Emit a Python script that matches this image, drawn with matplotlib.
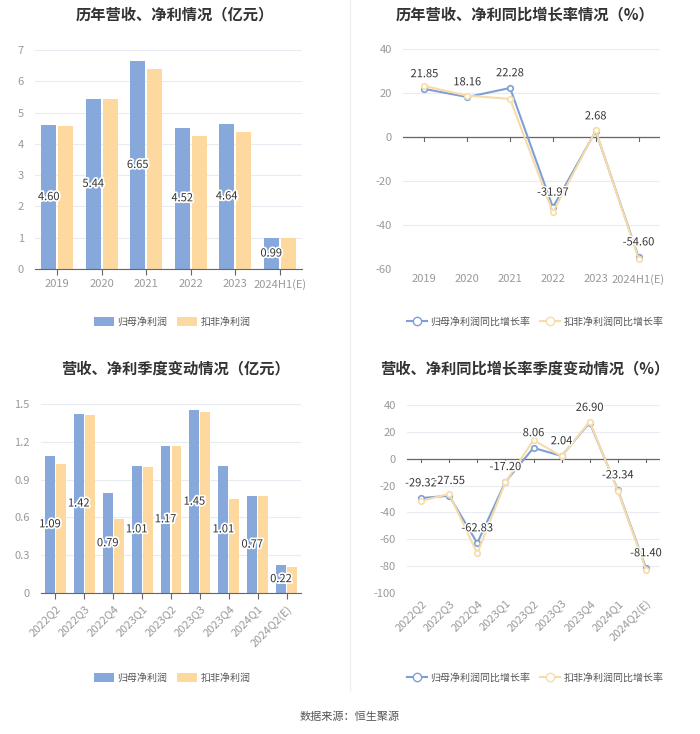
import numpy as np
import matplotlib
matplotlib.use("Agg")
import matplotlib.pyplot as plt
import matplotlib.patheffects as pe
from matplotlib.lines import Line2D
from matplotlib.patches import Patch

plt.rcParams['font.family'] = ['Noto Sans CJK SC', 'DejaVu Sans']

# annual data
years = ["2019", "2020", "2021", "2022", "2023", "2024H1(E)"]
np_parent = [4.60, 5.44, 6.65, 4.52, 4.64, 0.99]
np_deduct = [4.56, 5.42, 6.38, 4.24, 4.37, 0.98]
g_parent = [21.85, 18.16, 22.28, -31.97, 2.68, -54.60]
g_deduct = [23.2, 18.8, 17.3, -34.2, 3.0, -55.3]

# quarterly data
quarters = ["2022Q2", "2022Q3", "2022Q4", "2023Q1", "2023Q2", "2023Q3",
            "2023Q4", "2024Q1", "2024Q2(E)"]
q_parent = [1.09, 1.42, 0.79, 1.01, 1.17, 1.45, 1.01, 0.77, 0.22]
q_deduct = [1.02, 1.41, 0.59, 1.00, 1.17, 1.44, 0.75, 0.77, 0.21]
qg_parent = [-29.32, -27.55, -62.83, -17.20, 8.06, 2.04, 26.90, -23.34, -81.40]
qg_deduct = [-31.5, -26.2, -70.5, -17.5, 13.8, 1.8, 27.6, -23.8, -82.5]

BLUE = "#86A8DB"
YELLOW = "#FDD9A0"
LBLUE = "#7E9FD6"
LYELLOW = "#F7DCA8"
GRID = "#E9ECF2"
TICK = "#999999"
TXT = "#333333"

W, H = 700, 734
fig = plt.figure(figsize=(7, 7.34), dpi=100)


def ax_at(x0, y0, x1, y1):
    return fig.add_axes([x0 / W, 1 - y1 / H, (x1 - x0) / W, (y1 - y0) / H])


def style(ax, ymin, ymax, step, fmt):
    ax.set_ylim(ymin, ymax)
    ticks = np.arange(ymin, ymax + step / 2, step)
    ax.set_yticks(ticks)
    ax.set_yticklabels([fmt(t) for t in ticks])
    ax.grid(axis="y", color=GRID, linewidth=0.8)
    ax.set_axisbelow(True)
    for s in ["top", "right", "left"]:
        ax.spines[s].set_visible(False)
    ax.tick_params(axis="y", length=0, labelsize=8, labelcolor=TICK, pad=8)
    ax.tick_params(axis="x", length=4, color="#666666", labelsize=8, labelcolor=TICK)


def bar_chart(ax, cats, a, b, ymax, step, fmt, rotate=False):
    x = np.arange(len(cats))
    ax.bar(x - 0.19, a, width=0.34, color=BLUE)
    ax.bar(x + 0.19, b, width=0.34, color=YELLOW)
    ax.set_xlim(-0.5, len(cats) - 0.5)
    style(ax, 0, ymax, step, fmt)
    ax.spines["bottom"].set_color("#666666")
    ax.set_xticks(x)
    if rotate:
        ax.set_xticklabels(cats, rotation=45, ha="right", rotation_mode="anchor")
    else:
        ax.set_xticklabels(cats)
    for xi, v in zip(x, a):
        ax.text(xi - 0.19, v / 2, f"{v:.2f}", ha="center", va="center",
                fontsize=8, color=TXT,
                path_effects=[pe.withStroke(linewidth=2.5, foreground="white")])


def line_chart(ax, cats, a, b, ymin, ymax, step, rotate=False):
    x = np.arange(len(cats))
    ax.plot(x, b, color=LYELLOW, lw=1.5, marker="o", ms=4, mfc="white",
            mec=LYELLOW, mew=1.2, zorder=3)
    ax.plot(x, a, color=LBLUE, lw=1.5, marker="o", ms=4, mfc="white",
            mec=LBLUE, mew=1.2, zorder=2)
    ax.set_xlim(-0.5, len(cats) - 0.5)
    style(ax, ymin, ymax, step, lambda t: f"{t:.0f}")
    ax.spines["bottom"].set_visible(False)
    ax.axhline(0, color="#666666", lw=0.9, zorder=1)
    ax.set_xticks(x)
    ax.tick_params(axis="x", length=0)
    for xi in x:
        ax.plot([xi, xi], [0, -(ymax - ymin) * 0.018], color="#666666", lw=0.8,
                clip_on=False, zorder=1)
    if rotate:
        ax.set_xticklabels(cats, rotation=45, ha="right", rotation_mode="anchor")
    else:
        ax.set_xticklabels(cats)
    for xi, v in zip(x, a):
        ax.annotate(f"{v:.2f}", (xi, v), xytext=(0, 7), textcoords="offset points",
                    ha="center", va="bottom", fontsize=8, color=TXT, zorder=5,
                    path_effects=[pe.withStroke(linewidth=2, foreground="white")])


ax1 = ax_at(35, 50, 302, 269)
bar_chart(ax1, years, np_parent, np_deduct, 7, 1, lambda t: f"{t:.0f}")
ax2 = ax_at(403, 49, 660, 269)
line_chart(ax2, years, g_parent, g_deduct, -60, 40, 20)
ax3 = ax_at(41, 404, 301, 593)
bar_chart(ax3, quarters, q_parent, q_deduct, 1.5, 0.3,
          lambda t: "0" if t == 0 else f"{t:.1f}", rotate=True)
ax4 = ax_at(407, 405, 660, 593)
line_chart(ax4, quarters, qg_parent, qg_deduct, -100, 40, 20, rotate=True)

# titles
for x, y, t in [(175, 14, "历年营收、净利情况（亿元）"),
                (525, 14, "历年营收、净利同比增长率情况（%）"),
                (175, 368, "营收、净利季度变动情况（亿元）"),
                (525, 368, "营收、净利同比增长率季度变动情况（%）")]:
    fig.text(x / W, 1 - y / H, t, ha="center", va="center", fontsize=11,
             fontweight="bold", color=TXT)

# legends
bar_handles = [Patch(facecolor=BLUE, edgecolor="none"),
               Patch(facecolor=YELLOW, edgecolor="none")]
line_handles = [Line2D([], [], color=LBLUE, marker="o", mfc="white", ms=6, lw=1.5),
                Line2D([], [], color=LYELLOW, marker="o", mfc="white", ms=6, lw=1.5)]
for x, y, h, lab in [(172, 322, bar_handles, ["归母净利润", "扣非净利润"]),
                     (535, 322, line_handles, ["归母净利润同比增长率", "扣非净利润同比增长率"]),
                     (172, 678, bar_handles, ["归母净利润", "扣非净利润"]),
                     (535, 678, line_handles, ["归母净利润同比增长率", "扣非净利润同比增长率"])]:
    leg = fig.legend(h, lab, loc="center", bbox_to_anchor=(x / W, 1 - y / H), ncol=2,
                     frameon=False, fontsize=7.2, handlelength=2.0, handleheight=1.0,
                     columnspacing=0.9, handletextpad=0.4)
    for t in leg.get_texts():
        t.set_color("#555555")

# divider
fig.add_artist(Line2D([0.5, 0.5], [1 - 690 / H, 1.0], color="#F0F0F0", lw=1))

fig.text(0.5, 1 - 717 / H, "数据来源：恒生聚源", ha="center", va="center",
         fontsize=8, color="#555555")

fig.savefig("out.png", dpi=100, facecolor="white")
